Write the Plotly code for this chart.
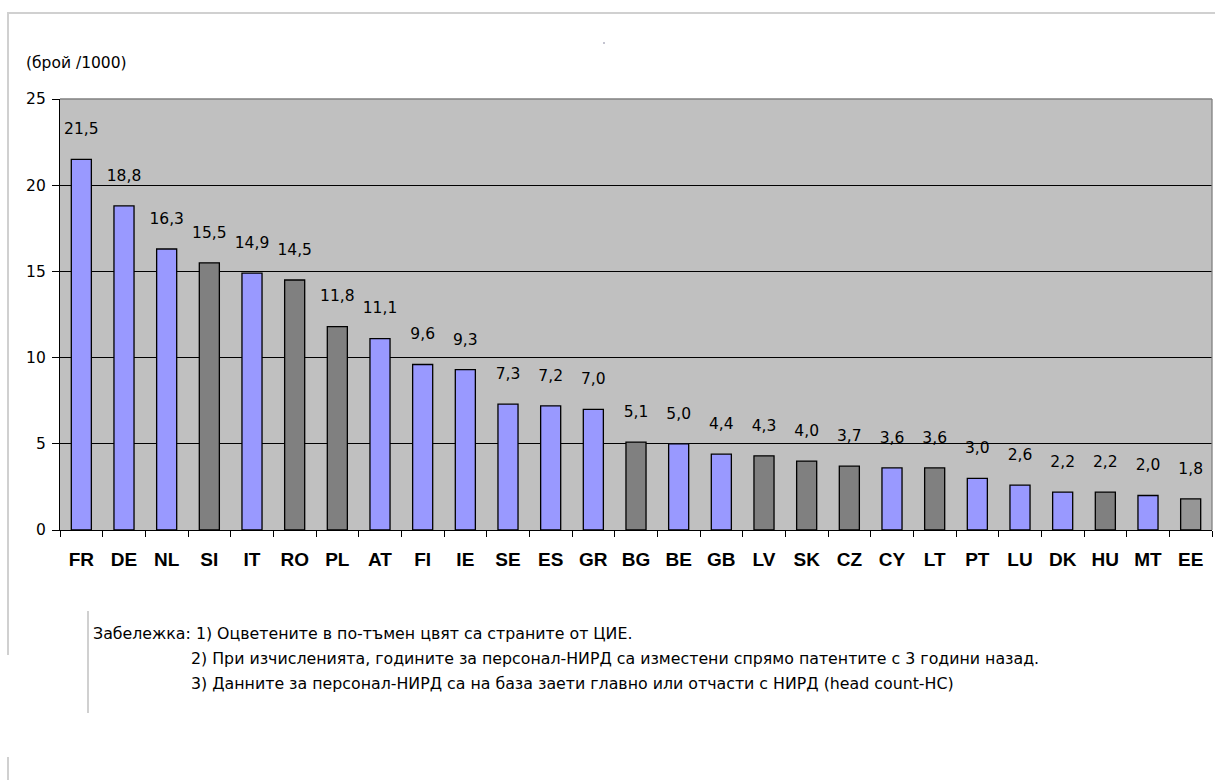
import plotly.graph_objects as go

countries = ["FR", "DE", "NL", "SI", "IT", "RO", "PL", "AT", "FI", "IE", "SE", "ES", "GR",
             "BG", "BE", "GB", "LV", "SK", "CZ", "CY", "LT", "PT", "LU", "DK", "HU", "MT", "EE"]
values = [21.5, 18.8, 16.3, 15.5, 14.9, 14.5, 11.8, 11.1, 9.6, 9.3, 7.3, 7.2, 7.0,
          5.1, 5.0, 4.4, 4.3, 4.0, 3.7, 3.6, 3.6, 3.0, 2.6, 2.2, 2.2, 2.0, 1.8]
groups = ["EU", "EU", "EU", "CEE", "EU", "CEE", "CEE", "EU", "EU", "EU", "EU", "EU", "EU",
          "CEE", "EU", "EU", "CEE", "CEE", "CEE", "EU", "CEE", "EU", "EU", "EU", "CEE", "EU", "CEE2"]
y_ticks = [0, 5, 10, 15, 20, 25]

unit_label = "(брой /1000)"
notes = [
    "Забележка: 1) Оцветените в по-тъмен цвят са страните от ЦИЕ.",
    "2) При изчисленията, годините за персонал-НИРД са изместени спрямо патентите с 3 години назад.",
    "3) Данните за персонал-НИРД са на база заети главно или отчасти с НИРД (head count-HC)",
]

color_map = {"EU": "#9999FF", "CEE": "#808080", "CEE2": "#969696"}
colors = [color_map[g] for g in groups]

FONT = "DejaVu Sans, Arial"
W, H = 1215, 780
L, R, T, B = 60, 3, 99, 250
pw, ph = W - L - R, H - T - B

def px(x):
    return (x - L) / pw

def py(y):
    return (H - B - y) / ph

fig = go.Figure()
fig.add_trace(go.Bar(
    x=countries, y=values,
    marker=dict(color=colors, line=dict(color="#000000", width=1.3)),
    width=0.47,
    texttemplate="%{y:.1f}<br><span style='font-size:7px'> </span>",
    textposition="outside", cliponaxis=False, constraintext="none",
    textfont=dict(family=FONT, size=15.5, color="#000000"),
    hoverinfo="skip",
))

fig.update_layout(
    width=W, height=H,
    margin=dict(l=L, r=R, t=T, b=B),
    paper_bgcolor="#FFFFFF", plot_bgcolor="#C0C0C0",
    separators=", ",
    showlegend=False,
    font=dict(family=FONT, color="#000000"),
)
fig.update_xaxes(
    type="category", tickson="boundaries", ticks="outside", ticklen=6, tickcolor="#000",
    tickwidth=1.3,
    showline=True, linecolor="#000", linewidth=1.3, showgrid=False,
    tickfont=dict(family="Liberation Sans, Arial", size=19, color="#000000", weight="bold"),
    ticklabelstandoff=12,
)
fig.update_yaxes(
    range=[0, 25], tickvals=y_ticks, ticks="outside", ticklen=7, tickcolor="#000",
    tickwidth=1.3,
    showline=True, linecolor="#000", linewidth=1.3,
    showgrid=True, gridcolor="#000000", gridwidth=1.3,
    tickfont=dict(family=FONT, size=15.5, color="#000000"),
    ticklabelstandoff=3,
    zeroline=False,
)

# plot-area border (top/right)
fig.add_shape(type="line", xref="paper", yref="paper", x0=0, x1=1, y0=1, y1=1,
              line=dict(color="#808080", width=1.3))
fig.add_shape(type="line", xref="paper", yref="paper", x0=1, x1=1, y0=0, y1=1,
              line=dict(color="#808080", width=1.3))

# outer frame lines
gray = "#D0D0D0"
fig.add_shape(type="line", xref="paper", yref="paper", x0=px(7), x1=px(1215), y0=py(13), y1=py(13),
              line=dict(color=gray, width=2))
fig.add_shape(type="line", xref="paper", yref="paper", x0=px(8), x1=px(8), y0=py(13), y1=py(655),
              line=dict(color=gray, width=2))
fig.add_shape(type="line", xref="paper", yref="paper", x0=px(88), x1=px(88), y0=py(611), y1=py(713),
              line=dict(color=gray, width=2))
fig.add_shape(type="line", xref="paper", yref="paper", x0=px(8), x1=px(8), y0=py(757), y1=py(780),
              line=dict(color=gray, width=2))
# tiny stray dot near top
fig.add_shape(type="circle", xref="paper", yref="paper", x0=px(603), x1=px(605), y0=py(42), y1=py(44),
              line=dict(width=0), fillcolor="#B0B0C0")

fig.add_annotation(text=unit_label, xref="paper", yref="paper", x=px(24), y=py(63),
                   xanchor="left", yanchor="middle", showarrow=False,
                   font=dict(family=FONT, size=15.5, color="#000"))

note_pos = [(91, 633), (189, 658), (189, 683)]
for (nx, ny), t in zip(note_pos, notes):
    fig.add_annotation(text=t, xref="paper", yref="paper", x=px(nx), y=py(ny),
                       xanchor="left", yanchor="middle", showarrow=False,
                       font=dict(family=FONT, size=15.8, color="#000"))

fig.write_html("out.html", config={"displayModeBar": False},
               post_script="document.body.style.margin='0';document.body.style.overflow='hidden';")
